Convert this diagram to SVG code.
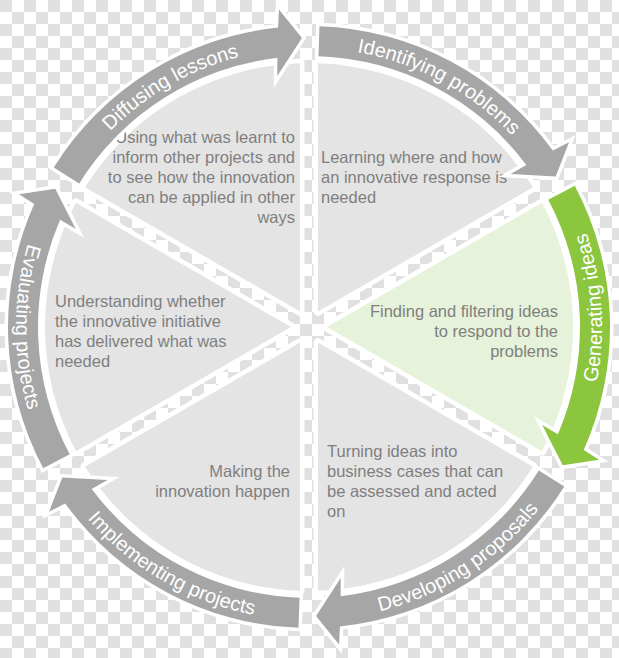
<svg xmlns="http://www.w3.org/2000/svg" xmlns:xlink="http://www.w3.org/1999/xlink" width="619" height="658" viewBox="0 0 619 658">
<style>
.slice{fill:#e4e4e4;stroke:#fff;stroke-width:9;stroke-linejoin:round;paint-order:stroke}
.slice.green{fill:#e6f2d9}
.arrow{fill:#a6a6a6;stroke:#fff;stroke-width:7;stroke-linejoin:miter;paint-order:stroke}
.arrow.green{fill:#8cc63f}
.alabel{font-family:"Liberation Sans",Arial,sans-serif;font-size:20px;fill:#fff}
.body{font-family:"Liberation Sans",Arial,sans-serif;font-size:16.5px;fill:#7f7f7f}
.r{text-anchor:end}
</style>
<defs>
<pattern id="checker" width="24" height="24" patternUnits="userSpaceOnUse">
<rect width="24" height="24" fill="#fff"/>
<rect width="12" height="12" fill="#e0e0e0"/>
<rect x="12" y="12" width="12" height="12" fill="#e0e0e0"/>
</pattern>
<path id="slice" d="M309,309 L184.86,94.01 A264,264 0 0,1 433.14,94.01 Z"/>
<path id="arrow" d="M167.69,61.23 A301,301 0 0,1 431.91,52.24 L441.79,36.95 L447.34,73.26 L407.04,93.77 L416.19,78.10 A271,271 0 0,0 181.77,87.72 Z"/>
<path id="tOut" d="M178.02,80.66 A279,279 0 0,1 439.98,80.66"/>
<path id="tIn" d="M446.55,68.30 A293,293 0 0,0 171.45,68.30"/>
</defs>
<rect width="619" height="658" fill="url(#checker)"/>

<g id="node-diffusing">
<use href="#slice" class="slice" transform="rotate(-30 309 327)"/>
<text class="body r"><tspan x="295" y="143">Using what was learnt to</tspan><tspan x="295" y="163">inform other projects and</tspan><tspan x="295" y="183">to see how the innovation</tspan><tspan x="295" y="203">can be applied in other</tspan><tspan x="295" y="223">ways</tspan></text>
</g>
<g id="node-identifying">
<use href="#slice" class="slice" transform="rotate(30 309 327)"/>
<text class="body"><tspan x="321" y="163">Learning where and how</tspan><tspan x="321" y="183">an innovative response is</tspan><tspan x="321" y="203">needed</tspan></text>
</g>
<g id="node-generating">
<use href="#slice" class="slice green" transform="rotate(90 309 327)"/>
<text class="body r"><tspan x="558" y="317">Finding and filtering ideas</tspan><tspan x="558" y="337">to respond to the</tspan><tspan x="558" y="357">problems</tspan></text>
</g>
<g id="node-developing">
<use href="#slice" class="slice" transform="rotate(150 309 327)"/>
<text class="body"><tspan x="327" y="457">Turning ideas into</tspan><tspan x="327" y="477">business cases that can</tspan><tspan x="327" y="497">be assessed and acted</tspan><tspan x="327" y="517">on</tspan></text>
</g>
<g id="node-implementing">
<use href="#slice" class="slice" transform="rotate(210 309 327)"/>
<text class="body r"><tspan x="290" y="477">Making the</tspan><tspan x="290" y="497">innovation happen</tspan></text>
</g>
<g id="node-evaluating">
<use href="#slice" class="slice" transform="rotate(270 309 327)"/>
<text class="body"><tspan x="55" y="307">Understanding whether</tspan><tspan x="55" y="327">the innovative initiative</tspan><tspan x="55" y="347">has delivered what was</tspan><tspan x="55" y="367">needed</tspan></text>
</g>

<g id="connectors">
<g id="arrow-diffusing" transform="rotate(-30 309 327)">
<use href="#arrow" class="arrow"/>
<text class="alabel"><textPath href="#tOut" startOffset="50%" text-anchor="middle">Diffusing lessons</textPath></text>
</g>
<g id="arrow-identifying" transform="rotate(30 309 327)">
<use href="#arrow" class="arrow"/>
<text class="alabel"><textPath href="#tOut" startOffset="47%" text-anchor="middle">Identifying problems</textPath></text>
</g>
<g id="arrow-generating" transform="rotate(90 309 327)">
<use href="#arrow" class="arrow green"/>
<text class="alabel"><textPath href="#tIn" startOffset="57%" text-anchor="middle">Generating ideas</textPath></text>
</g>
<g id="arrow-developing" transform="rotate(150 309 327)">
<use href="#arrow" class="arrow"/>
<text class="alabel"><textPath href="#tIn" startOffset="55%" text-anchor="middle">Developing proposals</textPath></text>
</g>
<g id="arrow-implementing" transform="rotate(210 309 327)">
<use href="#arrow" class="arrow"/>
<text class="alabel"><textPath href="#tIn" startOffset="50%" text-anchor="middle">Implementing projects</textPath></text>
</g>
<g id="arrow-evaluating" transform="rotate(270 309 327)">
<use href="#arrow" class="arrow"/>
<text class="alabel"><textPath href="#tIn" startOffset="50%" text-anchor="middle">Evaluating projects</textPath></text>
</g>
</g>
</svg>
